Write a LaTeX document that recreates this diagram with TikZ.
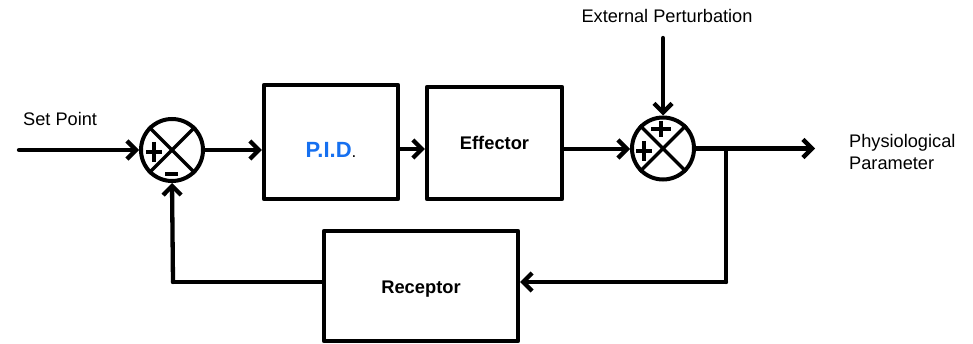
\documentclass[tikz,border=0pt]{standalone}
\usepackage{fontspec}
\setmainfont{Liberation Sans}
\usetikzlibrary{arrows.meta}
\definecolor{pidblue}{RGB}{22,112,240}
\begin{document}
\begin{tikzpicture}[x=1pt,y=-1pt,
  wire/.style={line width=4.3pt,line cap=round,line join=round},
  arr/.style={wire,-{Straight Barb[length=9pt,width=18pt,line width=4.3pt]}},
  blk/.style={draw,line width=4.3pt,line join=round,minimum width=#1,inner sep=0pt},
  sumj/.style={draw,circle,line width=4pt,minimum size=62pt,inner sep=0pt},
  sgn/.style={line width=3.3pt},
  lbl/.style={font=\fontsize{18.2}{22}\selectfont,inner sep=0pt},
  bl/.style={font=\fontsize{18.3}{20}\selectfont\bfseries,inner sep=0pt}]
\useasboundingbox (0,0) rectangle (973,344);
% blocks
\node[blk=134pt,minimum height=114pt] (pid) at (331,142) {};
\node[inner sep=0pt,anchor=base] (pidtxt) at (331,158) {\fontsize{22}{24}\selectfont\bfseries\color{pidblue}P.I.D\textcolor{black}{\fontsize{17}{20}\mdseries.}};
\node[blk=135pt,minimum height=112pt] (eff) at (494.5,143) {};
\node[bl] at (494.5,143) {Effector};
\node[blk=194pt,minimum height=110pt] (rec) at (421,286) {};
\node[bl] at (421,289) {Receptor};
% summing junctions
\node[sumj] (s1) at (172,150) {};
\draw[sgn] (s1.north west) -- (s1.south east) (s1.north east) -- (s1.south west);
\draw[sgn] (146,152) -- (162,152) (154,142) -- (154,162);
\draw[line width=4pt] (165,174) -- (178,174);
\node[sumj] (s2) at (663,148.5) {};
\draw[sgn] (s2.north west) -- (s2.south east) (s2.north east) -- (s2.south west);
\draw[sgn] (651,129) -- (671,129) (661,121) -- (661,137);
\draw[sgn] (636,151) -- (652,151) (644,141) -- (644,161);
% labels
\node[lbl,anchor=base west] (sp) at (23,126) {Set Point};
\node[lbl,anchor=base] (ep) at (667,23) {External Perturbation};
\node[lbl,anchor=north west,align=left] (pp) at (849,134) {Physiological\\Parameter};
% coordinates
\coordinate (in) at (19,150);
\coordinate (ext) at (663,38);
\coordinate (out) at (815,148.5);
\coordinate (br) at (726,148.5);
\coordinate (brd) at (726,282);
\coordinate (fbl) at (173,282);
% connectors
\draw[arr] (in) -- (s1.west);
\draw[arr] (s1.east) -- (pid.west |- s1.east);
\draw[arr] (pid.east |- 0,149) -- (eff.west |- 0,149);
\draw[arr] (eff.east |- 0,149) -- (s2.west |- 0,149);
\draw[arr] (ext) -- (s2.north);
\draw[arr] (s2.east) -- (out);
\draw[wire] (br) -- (brd);
\draw[arr] (brd) -- (rec.east |- brd);
\draw[wire] (rec.west |- fbl) -- (fbl);
\draw[arr] (fbl) -- (s1.south);
\end{tikzpicture}
\end{document}
